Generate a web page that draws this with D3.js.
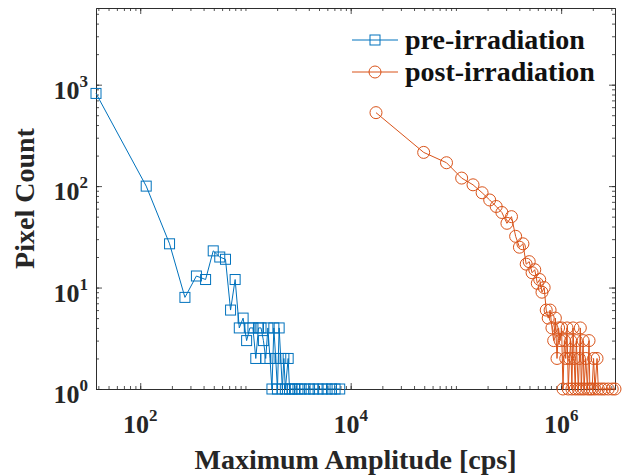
<!DOCTYPE html>
<html>
<head>
<meta charset="utf-8">
<script src="https://cdn.jsdelivr.net/npm/d3@7"></script>
<style>
  body { margin: 0; background: #fff; }
  svg { font-family: "Liberation Serif", "Times New Roman", serif; font-weight: bold; }
</style>
</head>
<body>
<script>
// data gelezen uit de figuur (histogram, lege bins weggelaten)
var preAmp = [38, 114, 190, 266, 342, 418, 494, 570, 646, 722,
    798, 874, 950, 1026, 1102, 1178, 1254, 1330, 1406, 1482,
    1558, 1634, 1710, 1786, 1862, 1938, 2014, 2090, 2166, 2242,
    2318, 2394, 2546, 2622, 2774, 2926, 3154, 3382, 3686, 4066,
    4446, 4902, 5434, 5966, 6574, 7106, 7866];
var preCount = [820, 100, 27, 8, 13, 12, 23, 20, 19, 6,
    12, 4, 5, 3, 4, 4, 2, 4, 4, 3,
    2, 4, 2, 1, 4, 2, 1, 4, 2, 1,
    2, 1, 2, 1, 1, 1, 1, 1, 1, 1,
    1, 1, 1, 1, 1, 1, 1];

var postAmp = [17400, 49400, 81400, 113400, 145400, 177400, 209400, 241400, 273400, 305400, 337400,
    369400, 401400, 433400, 465400, 497400, 529400, 561400, 593400, 625400, 657400, 689400,
    721400, 753400, 785400, 817400, 849400, 881400, 913400, 945400, 977400, 1009400, 1041400,
    1073400, 1105400, 1137400, 1169400, 1201400, 1233400, 1265400, 1297400, 1329400, 1361400, 1393400,
    1457400, 1489400, 1521400, 1553400, 1617400, 1649400,
    1713400, 1777400, 1841400, 1873400, 1969400, 2033400, 2097400, 2193400, 2257400,
    2417400, 2577400, 2801400, 3057400, 3249400];
var postCount = [530, 215, 170, 120, 103, 86, 73, 63, 55, 43, 50,
    32, 25, 27, 17, 18, 14, 15, 11, 12, 9, 10,
    6, 5, 6, 4, 3, 5, 2, 4, 3, 4, 1,
    3, 2, 4, 1, 2, 3, 1, 4, 2, 1, 3,
    1, 2, 4, 1, 3, 1,
    2, 1, 3, 1, 1, 2, 1, 2, 1,
    1, 1, 1, 1, 1];

var xTicks = [1e2, 1e4, 1e6];
var yTicks = [1e0, 1e1, 1e2, 1e3];
var yMax = 5700;

var seriesNames = ["pre-irradiation", "post-irradiation"];
var colors = ["#0072BD", "#D95319"];

var margin = { top: 8, right: 17, bottom: 87, left: 96 },
    width = 632 - margin.left - margin.right,
    height = 476 - margin.top - margin.bottom;

var svg = d3.select("body").append("svg")
    .attr("width", 632)
    .attr("height", 476);

var g = svg.append("g")
    .attr("transform", "translate(" + margin.left + "," + margin.top + ")");

var x = d3.scaleLog()
    .domain(d3.extent(preAmp.concat(postAmp)))
    .range([0, width]);

var y = d3.scaleLog()
    .domain([1, yMax])
    .range([height, 0]);

var axisColor = "#262626";

// assen: kleine en grote ticks naar binnen, box rondom
function drawAxis(axisFn, scale, ticks, size, transform) {
    var a = g.append("g")
        .attr("transform", transform)
        .call(axisFn(scale).tickValues(ticks).tickSizeInner(-size).tickSizeOuter(0).tickFormat(""));
    a.selectAll("path, line").attr("stroke", axisColor).attr("stroke-width", 0.8);
    return a;
}

var xMinor = x.ticks(), yMinor = y.ticks();
drawAxis(d3.axisBottom, x, xMinor, 3, "translate(0," + height + ")");
drawAxis(d3.axisBottom, x, xTicks, 6, "translate(0," + height + ")");
drawAxis(d3.axisTop, x, xMinor, 3, "translate(0,0)");
drawAxis(d3.axisTop, x, xTicks, 6, "translate(0,0)");
drawAxis(d3.axisLeft, y, yMinor, 3, "translate(0,0)");
drawAxis(d3.axisLeft, y, yTicks, 6, "translate(0,0)");
drawAxis(d3.axisRight, y, yMinor, 3, "translate(" + width + ",0)");
drawAxis(d3.axisRight, y, yTicks, 6, "translate(" + width + ",0)");

// tick labels als 10^n
function exponent(v) { return Math.round(Math.log10(v)); }

var xl = g.append("g").selectAll("text")
    .data(xTicks)
    .enter().append("text")
    .attr("x", function (d) { return x(d); })
    .attr("y", height + 44)
    .attr("text-anchor", "middle")
    .attr("font-size", 26)
    .attr("fill", axisColor);
xl.append("tspan").text("10");
xl.append("tspan").attr("dy", -12).attr("font-size", 17).text(function (d) { return exponent(d); });

var yl = g.append("g").selectAll("text")
    .data(yTicks)
    .enter().append("text")
    .attr("x", -8)
    .attr("y", function (d) { return y(d) + 14; })
    .attr("text-anchor", "end")
    .attr("font-size", 26)
    .attr("fill", axisColor);
yl.append("tspan").text("10");
yl.append("tspan").attr("dy", -12).attr("font-size", 17).text(function (d) { return exponent(d); });

// as-titels
g.append("text")
    .attr("x", width / 2)
    .attr("y", height + 80)
    .attr("text-anchor", "middle")
    .attr("font-size", 28)
    .attr("fill", axisColor)
    .text("Maximum Amplitude [cps]");

g.append("text")
    .attr("transform", "translate(" + (-62) + "," + (height / 2) + ") rotate(-90)")
    .attr("text-anchor", "middle")
    .attr("font-size", 28)
    .attr("fill", axisColor)
    .text("Pixel Count");

// lijnen en markers
var line = d3.line()
    .x(function (d) { return x(d[0]); })
    .y(function (d) { return y(d[1]); });

var preData = d3.zip(preAmp, preCount);
var postData = d3.zip(postAmp, postCount);

g.append("path")
    .datum(preData)
    .attr("fill", "none")
    .attr("stroke", colors[0])
    .attr("stroke-width", 1)
    .attr("d", line);

g.append("g").selectAll("rect")
    .data(preData)
    .enter().append("rect")
    .attr("x", function (d) { return x(d[0]) - 5; })
    .attr("y", function (d) { return y(d[1]) - 5; })
    .attr("width", 10)
    .attr("height", 10)
    .attr("fill", "none")
    .attr("stroke", colors[0])
    .attr("stroke-width", 1);

g.append("path")
    .datum(postData)
    .attr("fill", "none")
    .attr("stroke", colors[1])
    .attr("stroke-width", 1)
    .attr("d", line);

g.append("g").selectAll("circle")
    .data(postData)
    .enter().append("circle")
    .attr("cx", function (d) { return x(d[0]); })
    .attr("cy", function (d) { return y(d[1]); })
    .attr("r", 6)
    .attr("fill", "none")
    .attr("stroke", colors[1])
    .attr("stroke-width", 1);

// legenda
var legend = svg.append("g")
    .selectAll("g")
    .data(seriesNames)
    .enter().append("g")
    .attr("transform", function (d, i) { return "translate(352," + (40 + i * 32) + ")"; });

legend.append("line")
    .attr("x1", 0).attr("x2", 46)
    .attr("stroke", function (d, i) { return colors[i]; })
    .attr("stroke-width", 1);

legend.filter(function (d, i) { return i === 0; }).append("rect")
    .attr("x", 18).attr("y", -5).attr("width", 10).attr("height", 10)
    .attr("fill", "none").attr("stroke", colors[0]);

legend.filter(function (d, i) { return i === 1; }).append("circle")
    .attr("cx", 23).attr("r", 6)
    .attr("fill", "none").attr("stroke", colors[1]);

legend.append("text")
    .attr("x", 53)
    .attr("dy", "0.33em")
    .attr("font-size", 28)
    .attr("fill", "#111")
    .text(function (d) { return d; });
</script>
</body>
</html>
